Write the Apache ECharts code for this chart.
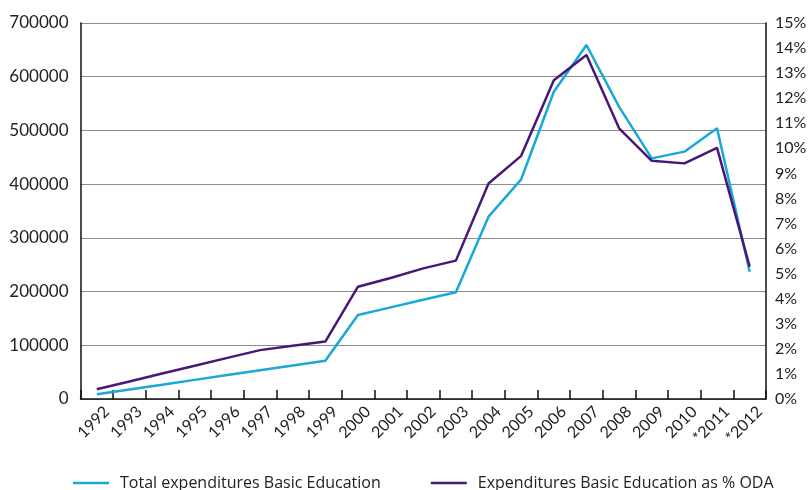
<!DOCTYPE html>
<html>
<head>
<meta charset="utf-8">
<script src="https://cdn.jsdelivr.net/npm/echarts@6/dist/echarts.min.js"></script>
<style>
html,body{margin:0;padding:0;background:#fff;}
#chart{width:810px;height:490px;}
</style>
</head>
<body>
<div id="chart"></div>
<script>
const categories = ['1992','1993','1994','1995','1996','1997','1998','1999','2000','2001','2002','2003','2004','2005','2006','2007','2008','2009','2010','*2011','*2012'];
const totalExpenditures = [8700, 17700, 26600, 35600, 44500, 53400, 62400, 71300, 156400, 170600, 184700, 198700, 339500, 409000, 572000, 659000, 544000, 448000, 460500, 504000, 237000];
const pctODA = [0.39, 0.70, 1.02, 1.33, 1.64, 1.95, 2.12, 2.29, 4.48, 4.83, 5.21, 5.52, 8.6, 9.7, 12.72, 13.72, 10.8, 9.5, 9.4, 10.02, 5.28];
const leftTicks = [0, 700000, 100000];
const rightTicks = [0, 15, 1];
const seriesNames = ['Total expenditures Basic Education', 'Expenditures Basic Education as % ODA'];

const chart = echarts.init(document.getElementById('chart'), null, {renderer:'canvas'});
const labelFont = 'Lato, "Open Sans", sans-serif';
chart.setOption({
  animation:false,
  backgroundColor:'#ffffff',
  grid:{left:80.5, right:44, top:23, bottom:91, containLabel:false},
  legend:{
    top:470, left:68,
    itemGap:50, itemWidth:36, itemHeight:2.5, icon:'rect',
    textStyle:{fontFamily:'"Open Sans", sans-serif', fontSize:16, color:'#222', padding:[0,0,0,6]},
    data:seriesNames
  },
  xAxis:{
    type:'category', data:categories, boundaryGap:true,
    axisLine:{lineStyle:{color:'#111', width:1.5}},
    axisTick:{show:true, inside:true, length:9, interval:0, lineStyle:{color:'#111', width:1.5}},
    axisLabel:{interval:0, rotate:45, margin:20, padding:[0,-14,0,0], fontFamily:labelFont, fontSize:16, color:'#222'},
    splitLine:{show:false}
  },
  yAxis:[{
    type:'value', min:leftTicks[0], max:leftTicks[1], interval:leftTicks[2],
    axisLine:{show:true, lineStyle:{color:'#111', width:1.5}},
    axisTick:{show:false},
    axisLabel:{margin:12, formatter:function(v){return String(v);}, fontFamily:labelFont, fontSize:17, color:'#222'},
    splitLine:{show:true, lineStyle:{color:'#8c8c8c', width:1.2}}
  },{
    type:'value', min:rightTicks[0], max:rightTicks[1], interval:rightTicks[2],
    position:'right',
    axisLine:{show:true, lineStyle:{color:'#111', width:1.5}},
    axisTick:{show:false},
    axisLabel:{margin:9, formatter:'{value}%', fontFamily:labelFont, fontSize:16, color:'#222'},
    splitLine:{show:false}
  }],
  series:[{
    name:seriesNames[0], type:'line', yAxisIndex:0, data:totalExpenditures,
    symbol:'none', lineStyle:{color:'#19a8d8', width:2.5}, itemStyle:{color:'#19a8d8'}
  },{
    name:seriesNames[1], type:'line', yAxisIndex:1, data:pctODA,
    symbol:'none', lineStyle:{color:'#4a1678', width:2.5}, itemStyle:{color:'#4a1678'}
  }]
});
</script>
</body>
</html>
